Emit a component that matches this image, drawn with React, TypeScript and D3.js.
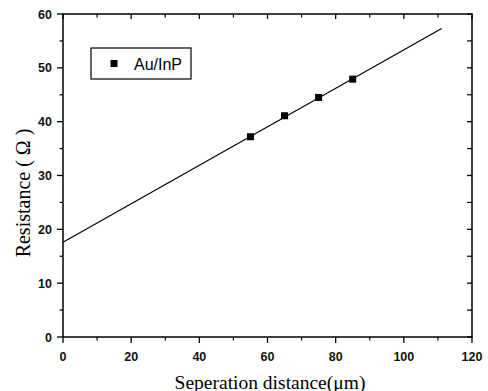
import React from "react";
import * as d3 from "d3";

const seriesName = "Au/InP";
const distances = [55, 65, 75, 85];
const resistances = [37.2, 41.1, 44.5, 47.9];
const fitX = [0, 111.1];
const fitY = [17.6, 57.3];
const xTicks = [0, 20, 40, 60, 80, 100, 120];
const yTicks = [0, 10, 20, 30, 40, 50, 60];
const xMinor = [10, 30, 50, 70, 90, 110];
const yMinor = [5, 15, 25, 35, 45, 55];

const W = 488, H = 391;
const L = 63, R = 472, T = 14, B = 337;

export default function App() {
  const x = d3.scaleLinear().domain([0, 120]).range([L, R]);
  const y = d3.scaleLinear().domain([0, 60]).range([B, T]);
  const line = d3.line<number>().x((d) => x(fitX[d])).y((d) => y(fitY[d]));
  const tickFont = "'Liberation Sans', Arial, sans-serif";
  const serif = "'Liberation Serif', 'Times New Roman', serif";
  return (
    <svg width={W} height={H} style={{ position: "absolute", left: 0, top: 0, background: "#fff" }}>
      <rect x={0} y={0} width={W} height={H} fill="#fff" />
      <rect x={L} y={T} width={R - L} height={B - T} fill="none" stroke="#000" strokeWidth={1.5} />
      {xTicks.map((t) => (
        <g key={"xb" + t}>
          <line x1={x(t)} x2={x(t)} y1={B} y2={B + 6} stroke="#000" strokeWidth={1.3} />
          <line x1={x(t)} x2={x(t)} y1={T} y2={T + 5} stroke="#000" strokeWidth={1.3} />
          <text x={x(t)} y={361} textAnchor="middle" fontFamily={tickFont} fontSize={12.5} fontWeight="bold" fill="#111">{t}</text>
        </g>
      ))}
      {xMinor.map((t) => (
        <g key={"xm" + t}>
          <line x1={x(t)} x2={x(t)} y1={B} y2={B + 3.5} stroke="#000" strokeWidth={1.2} />
          <line x1={x(t)} x2={x(t)} y1={T} y2={T + 3.5} stroke="#000" strokeWidth={1.2} />
        </g>
      ))}
      {yTicks.map((t) => (
        <g key={"yl" + t}>
          <line x1={L - 6} x2={L} y1={y(t)} y2={y(t)} stroke="#000" strokeWidth={1.3} />
          <line x1={R - 5} x2={R} y1={y(t)} y2={y(t)} stroke="#000" strokeWidth={1.3} />
          <text x={52} y={y(t) + 4.5} textAnchor="end" fontFamily={tickFont} fontSize={12.5} fontWeight="bold" fill="#111">{t}</text>
        </g>
      ))}
      {yMinor.map((t) => (
        <g key={"ym" + t}>
          <line x1={L - 3.5} x2={L} y1={y(t)} y2={y(t)} stroke="#000" strokeWidth={1.2} />
          <line x1={R - 5} x2={R} y1={y(t)} y2={y(t)} stroke="#000" strokeWidth={1.2} />
        </g>
      ))}
      <path d={line([0, 1]) || ""} fill="none" stroke="#000" strokeWidth={1.2} />
      {distances.map((d, i) => (
        <rect key={"p" + i} x={x(d) - 3.5} y={y(resistances[i]) - 3.5} width={7} height={7} fill="#000" />
      ))}
      <rect x={91} y={48} width={100} height={31} fill="#fff" stroke="#000" strokeWidth={1.2} />
      <rect x={110.5} y={60} width={7} height={7} fill="#000" />
      <text x={134} y={69.5} fontFamily={tickFont} fontSize={16} fill="#000">{seriesName}</text>
      <text x={270} y={388.5} textAnchor="middle" fontFamily={serif} fontSize={19.5} fill="#000">Seperation distance(μm)</text>
      <text transform={`translate(30,193) rotate(-90)`} textAnchor="middle" fontFamily={serif} fontSize={20} fill="#000">Resistance ( Ω )</text>
    </svg>
  );
}
